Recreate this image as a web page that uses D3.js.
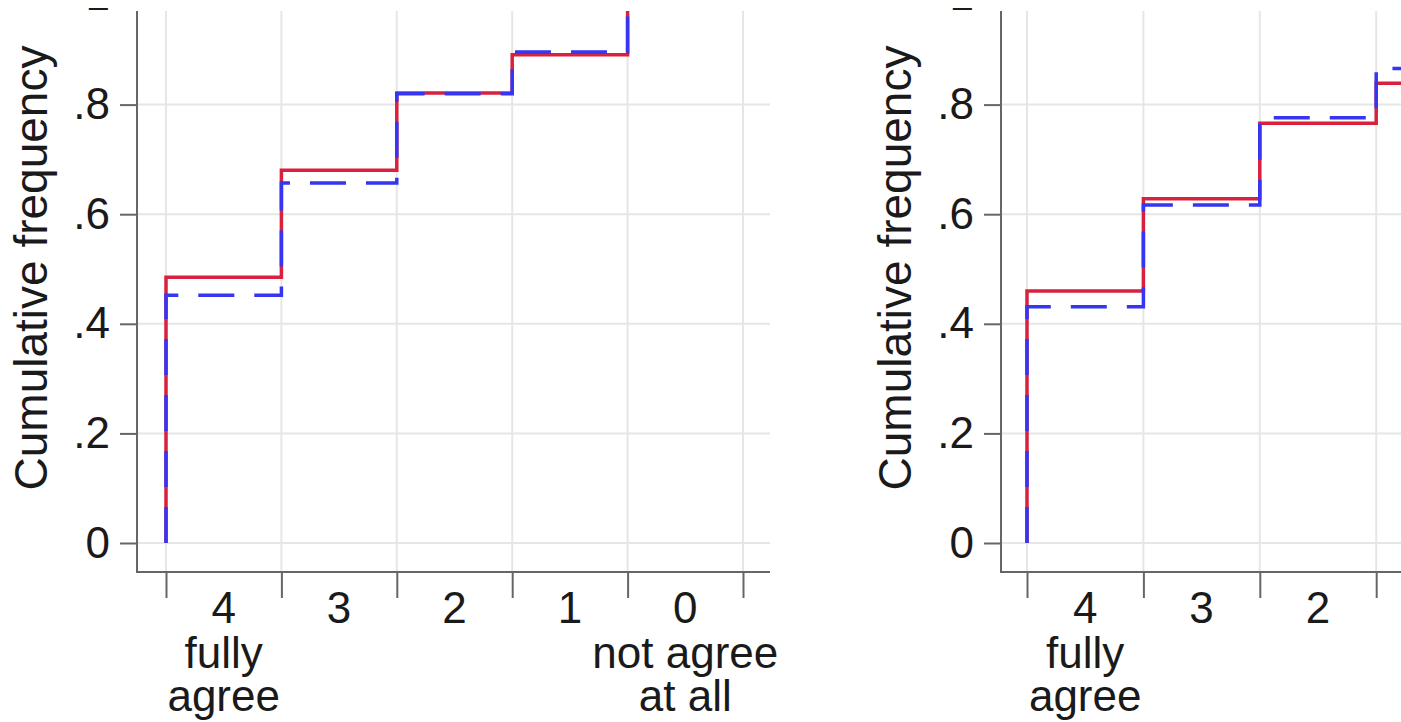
<!DOCTYPE html>
<html>
<head>
<meta charset="utf-8">
<script src="https://cdn.jsdelivr.net/npm/d3@7"></script>
<style>
  body { margin: 0; background: #fff; }
  svg { display: block; }
  text { font-family: "Liberation Sans", Arial, sans-serif; fill: #1a1a1a; }
</style>
</head>
<body>
<div id="vis"></div>
<script>
// answer categories, left to right
let categories = ["4", "3", "2", "1", "0"];
let categoryNotes = [["fully", "agree"], [], [], [], ["not agree", "at all"]];
let yTicks = [0, 0.2, 0.4, 0.6, 0.8, 1];

// cumulative frequencies, panel 1
let leftSolid  = [0.485, 0.680, 0.821, 0.891, 1.0];
let leftDashed = [0.452, 0.657, 0.820, 0.896, 1.0];
// panel 2 (cut off on the right)
let rightSolid  = [0.460, 0.628, 0.766, 0.839, 1.0];
let rightDashed = [0.431, 0.617, 0.776, 0.866, 1.0];

let W = 1401, H = 722;

let svg = d3.select('#vis')
  .append('svg')
    .attr('width', W)
    .attr('height', H)
    .attr('viewBox', [0, 0, W, H].join(' '));

let y = d3.scaleLinear().domain([0, 1]).range([543, -5]);
let plotTop = 11, axisY = 572;

// the figure is cropped just above the plot frame
svg.append('clipPath').attr('id', 'crop')
  .append('rect').attr('x', 0).attr('y', 8).attr('width', W).attr('height', H);

function panel(id, opt, solid, dashed) {
  let g = svg.append('g').attr('clip-path', 'url(#crop)');
  let x = d3.scaleLinear().domain([0, 5]).range([opt.x0, opt.x5]);

  g.append('clipPath').attr('id', id)
    .append('rect')
      .attr('x', opt.axisX).attr('y', plotTop)
      .attr('width', opt.right - opt.axisX).attr('height', axisY - plotTop);

  // grid
  g.append('g').selectAll('line').data(yTicks.filter(d => d < 1)).join('line')
    .attr('x1', opt.axisX).attr('x2', opt.right)
    .attr('y1', d => y(d)).attr('y2', d => y(d))
    .attr('stroke', '#e6e6e6').attr('stroke-width', 2);
  g.append('g').selectAll('line').data(d3.range(6)).join('line')
    .attr('x1', d => x(d)).attr('x2', d => x(d))
    .attr('y1', plotTop).attr('y2', axisY)
    .attr('stroke', '#e6e6e6').attr('stroke-width', 2);

  // y axis
  let ya = g.append('g')
    .attr('transform', `translate(${opt.axisX},0)`)
    .call(d3.axisLeft(y).tickValues(yTicks).tickSize(17).tickPadding(10)
      .tickFormat(d => d === 0 ? '0' : d === 1 ? '1' : d3.format('.1f')(d).replace(/^0/, '')));
  ya.select('.domain').remove();
  ya.selectAll('.tick line').attr('stroke', '#666').attr('stroke-width', 2);
  ya.selectAll('.tick text').attr('font-size', 44).attr('fill', '#1a1a1a')
    .style('font-family', '"Liberation Sans", Arial, sans-serif');
  g.append('line')
    .attr('x1', opt.axisX).attr('x2', opt.axisX)
    .attr('y1', plotTop).attr('y2', axisY + 1)
    .attr('stroke', '#666').attr('stroke-width', 2);

  g.append('text')
    .attr('transform', `translate(${opt.axisX - 90},268) rotate(-90)`)
    .attr('text-anchor', 'middle')
    .attr('font-size', 46)
    .text('Cumulative frequency');

  // x axis
  let xa = g.append('g')
    .attr('transform', `translate(0,${axisY})`)
    .call(d3.axisBottom(x).tickValues(d3.range(6)).tickSize(26).tickFormat(''));
  xa.select('.domain').remove();
  xa.selectAll('.tick line').attr('stroke', '#666').attr('stroke-width', 2);
  g.append('line')
    .attr('x1', opt.axisX - 1).attr('x2', opt.right)
    .attr('y1', axisY).attr('y2', axisY)
    .attr('stroke', '#666').attr('stroke-width', 2);

  let lab = g.append('g').selectAll('text').data(categories).join('text')
    .attr('x', (d, i) => (x(i) + x(i + 1)) / 2)
    .attr('y', 623)
    .attr('text-anchor', 'middle')
    .attr('font-size', 44);
  lab.append('tspan').text(d => d);
  lab.each(function(d, i) {
    categoryNotes[i].forEach((t, k) => {
      d3.select(this).append('tspan')
        .attr('x', (x(i) + x(i + 1)) / 2)
        .attr('y', 668 + k * 43)
        .text(t);
    });
  });

  // step lines
  let line = d3.line()
    .x(d => x(d[0])).y(d => y(d[1]))
    .curve(d3.curveStepAfter);
  let pts = v => [[0, 0]].concat(v.map((c, i) => [i, c]), [[5, v[4]]]);

  let plot = g.append('g').attr('clip-path', `url(#${id})`);
  plot.append('path').attr('d', line(pts(solid)))
    .attr('fill', 'none').attr('stroke', '#d8203f').attr('stroke-width', 3.5);
  plot.append('path').attr('d', line(pts(dashed)))
    .attr('fill', 'none').attr('stroke', '#3535f2').attr('stroke-width', 3.5)
    .attr('stroke-dasharray', '36 20');
}

panel('clipL', { axisX: 137, x0: 166, x5: 743, right: 770 }, leftSolid, leftDashed);
panel('clipR', { axisX: 1001, x0: 1027, x5: 1609, right: 1401 }, rightSolid, rightDashed);
</script>
</body>
</html>
